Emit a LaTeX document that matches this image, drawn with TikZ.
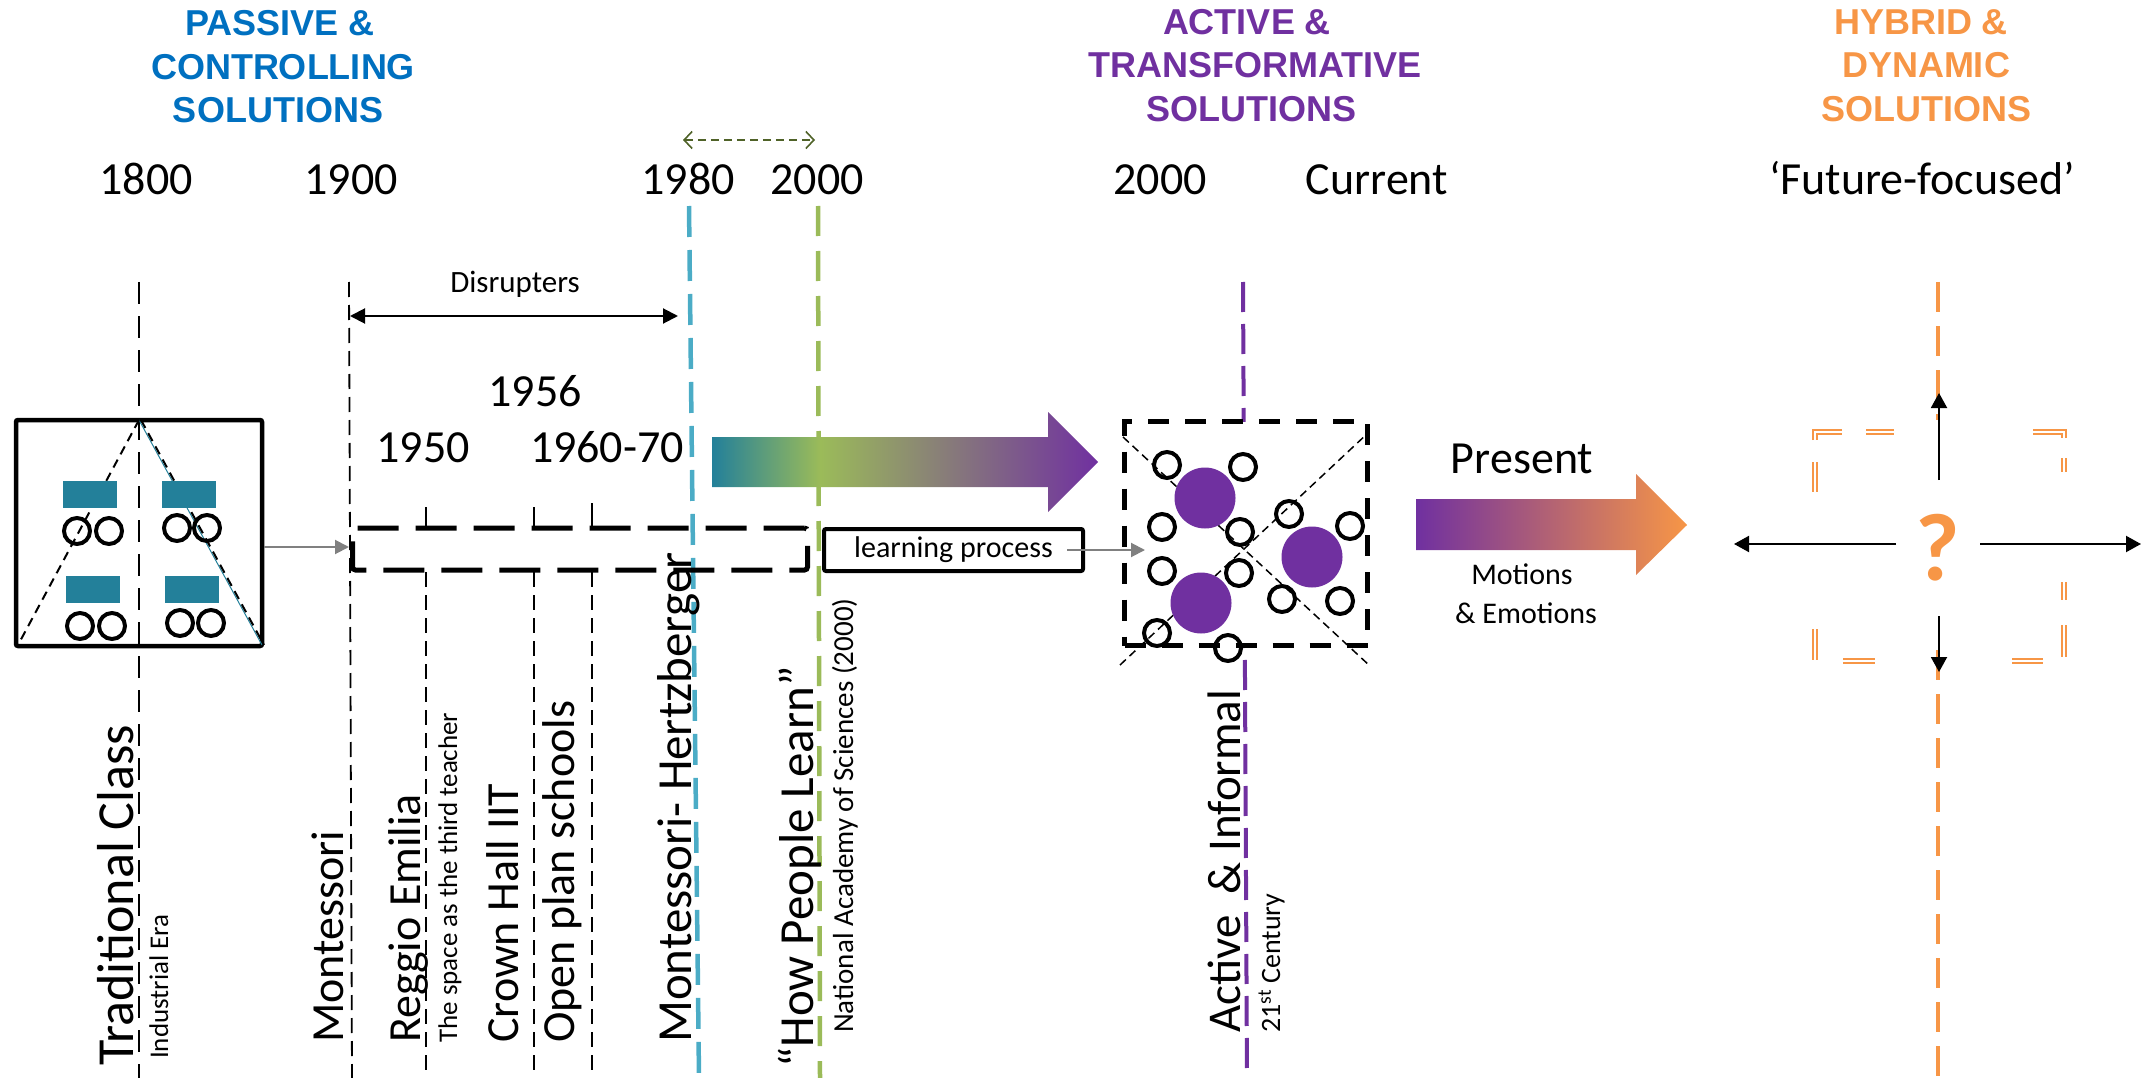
\documentclass[tikz,border=0pt]{standalone}
\usepackage{fontspec}
\setmainfont{Carlito}
\newfontfamily\titlefont{Liberation Sans}
\usetikzlibrary{arrows.meta}
\definecolor{tblue}{HTML}{0070C0}
\definecolor{tpurple}{HTML}{7030A0}
\definecolor{torange}{HTML}{F79646}
\definecolor{tteal}{HTML}{23809A}
\definecolor{laqua}{HTML}{4BACC6}
\definecolor{lgreen}{HTML}{9BBB59}
\definecolor{dgreen}{HTML}{4F6228}
\definecolor{agray}{HTML}{808080}
\pgfdeclarehorizontalshading{arrowA}{100bp}{color(0bp)=(tteal); color(25bp)=(tteal); color(39bp)=(lgreen); color(75bp)=(tpurple); color(100bp)=(tpurple)}
\pgfdeclarehorizontalshading{arrowB}{100bp}{color(0bp)=(tpurple); color(25bp)=(tpurple); color(75bp)=(torange); color(100bp)=(torange)}
\newcommand{\setfs}[1]{\fontsize{#1}{#1}\selectfont}
\begin{document}
\begin{tikzpicture}[x=1pt,y=-1pt,
  ttl/.style={font=\titlefont\bfseries\setfs{36}, anchor=base, inner sep=0},
  yr/.style={font=\setfs{46}, anchor=base, inner sep=0},
  vt/.style={rotate=90, anchor=base west, inner sep=0, font=\setfs{46}},
  vts/.style={rotate=90, anchor=base west, inner sep=0, font=\setfs{27}},
  thindash/.style={line width=1.8pt, dash pattern=on 15pt off 8pt},
  longdash/.style={line width=1.8pt, dash pattern=on 22pt off 12pt},
  colline/.style={line width=4.5pt, dash pattern=on 31pt off 13pt},
  seat/.style={line width=4pt},
  desk/.style={fill=tteal},
  garrow/.style={agray, line width=2pt, -{Triangle[length=14pt,width=14pt]}},
  barrow/.style={black, line width=2pt, -{Triangle[length=15pt,width=16pt]}},
  odash/.style={draw=torange, line width=1.8pt, double=white, double distance=2pt},
]
\useasboundingbox (0,0) rectangle (2156,1078);

% ---------- titles ----------
\node[ttl,text=tblue] (pa1) at (280,36) {PASSIVE \&};
\node[ttl,text=tblue] (pa2) at (283,80) {CONTROLLING};
\node[ttl,text=tblue] (pa3) at (278,123) {SOLUTIONS};
\node[ttl,text=tpurple] (ac1) at (1247,35) {ACTIVE \&};
\node[ttl,text=tpurple] (ac2) at (1255,78) {TRANSFORMATIVE};
\node[ttl,text=tpurple] (ac3) at (1251,122) {SOLUTIONS};
\node[ttl,text=torange] (hy1) at (1921,35) {HYBRID \&};
\node[ttl,text=torange] (hy2) at (1926,78) {DYNAMIC};
\node[ttl,text=torange] (hy3) at (1926,122) {SOLUTIONS};

% ---------- years ----------
\node[yr] (y1800) at (146,195) {1800};
\node[yr] (y1900) at (351,195) {1900};
\node[yr] (y1980) at (688,195) {1980};
\node[yr] (y2000a) at (817,195) {2000};
\node[yr] (y2000b) at (1160,195) {2000};
\node[yr] (ycur) at (1377,195) {Current};
\node[yr] (yfut) at (1922,195) {‘Future-focused’};

\coordinate (da) at (683,140);
\coordinate (db) at (815,140);
\draw[dgreen, line width=1.6pt, dash pattern=on 8pt off 5pt,
  {Straight Barb[length=8pt,width=17pt]}-{Straight Barb[length=8pt,width=17pt]}] (da) -- (db);

% ---------- vertical lines ----------
\draw[longdash] (139,282) -- (139,1078);
\draw[thindash] (349,282) -- (352,1078);
\draw[colline, laqua] (689,206) -- (699,1078);
\draw[colline, lgreen, dash pattern=on 30pt off 15pt] (818,206) -- (820,1078);
\draw[colline, tpurple, line width=4pt, dash pattern=on 30pt off 12pt] (1243,282) -- (1247,1078);
\draw[colline, torange, dash pattern=on 30pt off 14pt] (1938,282) -- (1938,420);
\draw[colline, torange, dash pattern=on 30pt off 14pt] (1938,650) -- (1938,1078);

\draw[line width=1.8pt] (426,507) -- (426,526);
\draw[line width=1.8pt] (534,507) -- (534,526);
\draw[line width=1.8pt] (592,503) -- (592,526);
\draw[thindash] (426,572) -- (426,1078);
\draw[thindash] (534,572) -- (534,1078);
\draw[thindash] (592,572) -- (592,1078);

% ---------- traditional class ----------
\node[draw, line width=4.5pt, rounded corners=2pt, minimum width=246pt, minimum height=226pt, inner sep=0] (trad) at (139,533) {};
\draw[tteal, line width=1pt] (139,420) -- (262,645);
\draw[line width=2pt, dash pattern=on 9pt off 6pt] (139,420) -- (18,645);
\draw[line width=2pt, dash pattern=on 9pt off 6pt] (141,420) -- (264,645);
\fill[desk] (63,481) rectangle (117,508);
\fill[desk] (162,481) rectangle (216,508);
\fill[desk] (66,576) rectangle (120,603);
\fill[desk] (165,576) rectangle (219,603);
\foreach \p in {(77,531),(109,531),(177,528),(207,528),(80,626),(112,626),(180,623),(211,623)}
  \draw[seat] \p circle (13pt);

% ---------- disrupters ----------
\coordinate (dl) at (350,316);
\coordinate (dr) at (678,316);
\draw[line width=2pt, {Triangle[length=15pt,width=15pt]}-{Triangle[length=15pt,width=15pt]}] (dl) -- (dr);
\node[font=\setfs{31}, anchor=base, inner sep=0] (disr) at (515,292) {Disrupters};
\node[yr] (y1956) at (535,406) {1956};
\node[yr] (y1950) at (423,462) {1950};
\node[yr] (y1960) at (607,462) {1960-70};

% ---------- timeline boxes ----------
\node[draw, line width=5pt, dash pattern=on 41pt off 17pt, rounded corners=3pt, minimum width=455pt, minimum height=42pt, inner sep=0] (tl) at (580,549) {};
\coordinate (m1900) at (349,547);
\draw[garrow] (trad.east |- m1900) -- (m1900);

\node[draw, line width=4pt, rounded corners=2pt, minimum width=259pt, minimum height=42pt, inner sep=0, font=\setfs{30}] (lp) at (953.5,550) {learning process};

% ---------- gradient arrows ----------
\shade[shading=arrowA] (712,437) -- (1048,437) -- (1048,412) -- (1098,462) -- (1048,512) -- (1048,487) -- (712,487) -- cycle;
\shade[shading=arrowB] (1416,499) -- (1636,499) -- (1636,474) -- (1687,525) -- (1636,575) -- (1636,550) -- (1416,550) -- cycle;
\node[font=\setfs{46}, anchor=base, inner sep=0] (pres) at (1522,473) {Present};
\node[font=\setfs{30}, anchor=base, inner sep=0] (mot1) at (1522,584) {Motions};
\node[font=\setfs{30}, anchor=base, inner sep=0] (mot2) at (1526,623) {\& Emotions};

% ---------- active square ----------
\node[draw, fill=white, line width=5pt, dash pattern=on 21pt off 16pt, minimum width=243pt, minimum height=224pt, inner sep=0] (act) at (1246,533.5) {};
\draw[line width=1.5pt, dash pattern=on 8pt off 5pt] (1123,437) -- (1370,666);
\draw[line width=1.5pt, dash pattern=on 8pt off 5pt] (1120,665) -- (1368,433);
\fill[tpurple] (1205,498) circle (30.5pt);
\fill[tpurple] (1312,557) circle (30.5pt);
\fill[tpurple] (1201,603) circle (30.5pt);
\foreach \p in {(1167,465),(1243,467),(1162,527),(1240,532),(1289,514),(1350,526),(1162,571),(1239,573),(1282,599),(1340,601),(1157,633),(1228,648)}
  \draw[seat] \p circle (13pt);
\coordinate (lpend) at (1067,550);
\coordinate (actin) at (1145,550);
\draw[garrow] (lpend) -- (actin);

% ---------- future ----------
\draw[odash] (1815,440) -- (1815,432) -- (1842,432);
\draw[odash] (1866,432) -- (1894,432);
\draw[odash] (2033,432) -- (2064,432) -- (2064,438);
\draw[odash] (2064,458) -- (2064,472);
\draw[odash] (2064,582) -- (2064,600);
\draw[odash] (2064,625) -- (2064,657);
\draw[odash] (1815,462) -- (1815,492);
\draw[odash] (1815,629) -- (1815,660);
\draw[odash] (1843,661) -- (1875,661);
\draw[odash] (2012,661) -- (2043,661);
\node[font=\bfseries\setfs{96}, text=torange, anchor=base, inner sep=0] (q) at (1938,580) {?};
\coordinate (qu1) at (1939,480); \coordinate (qu2) at (1939,393);
\coordinate (qd1) at (1939,616); \coordinate (qd2) at (1939,672);
\coordinate (ql1) at (1896,544); \coordinate (ql2) at (1734,544);
\coordinate (qr1) at (1980,544); \coordinate (qr2) at (2141,544);
\draw[barrow] (qu1) -- (qu2);
\draw[barrow] (qd1) -- (qd2);
\draw[barrow] (ql1) -- (ql2);
\draw[barrow] (qr1) -- (qr2);

% ---------- vertical texts ----------
\node[vt, font=\setfs{52}] (trc) at (133,1066) {Traditional Class};
\node[vts] (ind) at (168,1059) {Industrial Era};
\node[vt] (mon) at (343,1043) {Montessori};
\node[vt] (reg) at (420,1043) {Reggio Emilia};
\node[vts] (spc) at (457,1043) {The space as the third teacher};
\node[vt] (crh) at (518,1043) {Crown Hall IIT};
\node[vt] (opp) at (574,1043) {Open plan schools};
\node[vt, font=\setfs{49}] (mhz) at (691,1043) {Montessori- Hertzberger};
\node[vt, font=\setfs{49}] (hpl) at (813,1068) {“How People Learn”};
\node[vts, font=\setfs{29}] (nas) at (853,1033) {National Academy of Sciences (2000)};
\node[vt, font=\setfs{47}] (aci) at (1240,1033) {Active~~\& Informal};
\node[vts, font=\setfs{28}] (c21) at (1280,1033) {21\textsuperscript{st} Century};
\end{tikzpicture}
\end{document}
